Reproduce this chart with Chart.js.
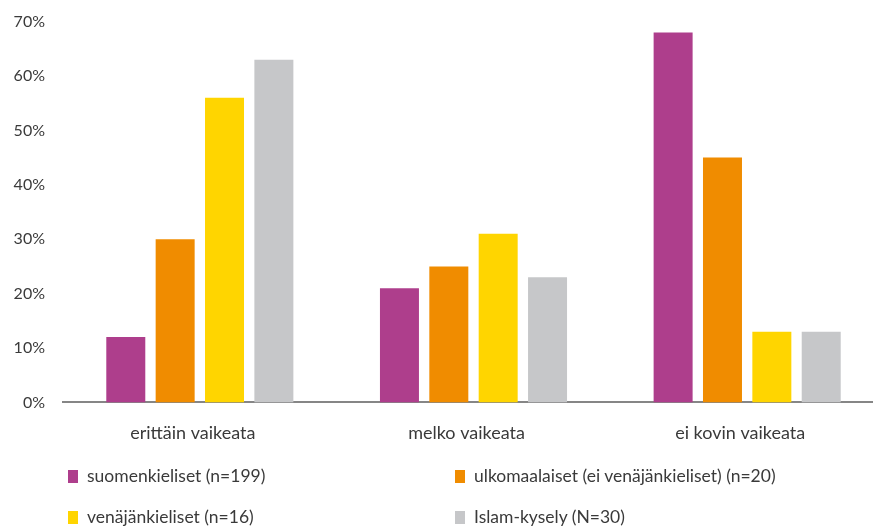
<!DOCTYPE html>
<html>
<head>
<meta charset="utf-8">
<script src="https://cdn.jsdelivr.net/npm/chart.js@4"></script>
<style>
  html, body { margin: 0; padding: 0; background: #fff; overflow: hidden; width: 873px; height: 526px; }
  #wrap { position: relative; width: 884px; height: 526px; }
  #c { position: absolute; left: 0; top: -6px; }
  .leg { position: absolute; font-family: Lato, "Open Sans", sans-serif; font-size: 17.5px; color: #3a3a3a; white-space: nowrap; line-height: 20px; }
  .leg span.box { display: inline-block; width: 10px; height: 13px; margin-right: 9px; vertical-align: -1px; }
</style>
</head>
<body>
<div id="wrap">
  <canvas id="c" width="884" height="526"></canvas>
  <div id="legend"></div>
</div>
<script>
const categories = ["erittäin vaikeata", "melko vaikeata", "ei kovin vaikeata"];
const seriesNames = ["suomenkieliset (n=199)", "ulkomaalaiset (ei venäjänkieliset) (n=20)", "venäjänkieliset (n=16)", "Islam-kysely (N=30)"];
const suomenkieliset = [12, 21, 68];
const ulkomaalaiset = [30, 25, 45];
const venajankieliset = [56, 31, 13];
const islamKysely = [63, 23, 13];
const yTicks = [0, 10, 20, 30, 40, 50, 60, 70];

const colors = ["#AE3E8C", "#F08C00", "#FFD500", "#C6C7C9"];
const values = [suomenkieliset, ulkomaalaiset, venajankieliset, islamKysely];

const FONT = 'Lato, "Open Sans", sans-serif';
const TEXT = '#3a3a3a';

const chart = new Chart(document.getElementById('c'), {
  type: 'bar',
  data: {
    labels: categories,
    datasets: seriesNames.map((n, i) => ({
      label: n,
      data: values[i],
      backgroundColor: colors[i],
      borderWidth: 0,
      categoryPercentage: 0.7215,
      barPercentage: 0.79
    }))
  },
  options: {
    responsive: false,
    animation: false,
    layout: { padding: { left: 12, right: 0, top: 7, bottom: 56 } },
    plugins: { legend: { display: false }, tooltip: { enabled: false } },
    scales: {
      x: {
        grid: { display: false, drawTicks: false },
        border: { display: true, color: '#868686', width: 2 },
        ticks: { color: TEXT, font: { family: FONT, size: 18 }, padding: 20, labelOffset: -7 }
      },
      y: {
        min: 0, max: 70,
        afterBuildTicks: (s) => { s.ticks = yTicks.map(v => ({ value: v })); },
        afterFit: (s) => { s.width = 51; },
        grid: { display: false, drawTicks: false },
        border: { display: false },
        ticks: { color: TEXT, font: { family: FONT, size: 16 }, padding: 18, callback: v => v + '%' }
      }
    }
  }
});

// HTML legend built from the chart's datasets
const legPos = [[68, 466], [455, 466], [68, 507], [455, 507]];
const legend = document.getElementById('legend');
chart.data.datasets.forEach((d, i) => {
  const el = document.createElement('div');
  el.className = 'leg';
  el.style.left = legPos[i][0] + 'px';
  el.style.top = legPos[i][1] + 'px';
  const b = document.createElement('span');
  b.className = 'box';
  b.style.background = d.backgroundColor;
  el.appendChild(b);
  el.appendChild(document.createTextNode(d.label));
  legend.appendChild(el);
});
</script>
</body>
</html>
